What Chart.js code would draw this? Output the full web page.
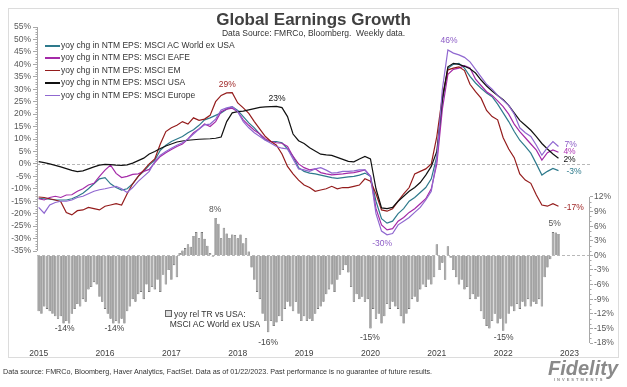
<!DOCTYPE html>
<html lang="en">
<head>
    <meta charset="UTF-8">
    <title>Global Earnings Growth</title>
    <script src="https://cdn.jsdelivr.net/npm/chart.js"></script>
    <style>
        body {
            margin: 0;
            background: #fff;
            font-family: "Liberation Sans", Arial, sans-serif;
        }
        .wrap {
            position: relative;
            width: 627px;
            height: 387px;
            overflow: hidden;
        }
        .frame {
            position: absolute;
            left: 8px;
            top: 8px;
            width: 609px;
            height: 348px;
            border: 1px solid #dcdcdc;
        }
        canvas { position: absolute; left: 0; top: 0; }
        .txt { position: absolute; white-space: nowrap; }
        #title { left: 0; width: 627px; top: 10px; text-align: center; font-weight: bold; font-size: 17px; line-height: 20px; color: #404040; }
        #subtitle { left: 0; width: 627px; top: 28px; text-align: center; font-size: 8.5px; line-height: 10px; color: #333; }
        #legend { left: 45px; top: 39px; font-size: 8.5px; line-height: 12.4px; color: #333; }
        #legend .sw { display: inline-block; width: 15px; height: 1.5px; vertical-align: middle; margin-right: 1px; }
        #barLegend { left: 165px; top: 309px; font-size: 8.5px; line-height: 10px; color: #333; }
        #barLegend .box { display: inline-block; width: 5px; height: 5px; border: 1px solid #666; background: #ddd; margin-right: 2px; vertical-align: 0; }
        #footer { left: 3px; top: 367px; font-size: 7.2px; line-height: 9px; color: #333; }
        #logo { left: 548px; top: 358px; font-size: 20px; font-weight: bold; font-style: italic; color: #8a8a8a; line-height: 20px; }
        #logo small { display: block; font-size: 4px; line-height: 4px; letter-spacing: 2px; font-style: normal; margin-left: 6px; }
    </style>
</head>
<body>
<div class="wrap">
    <div class="frame"></div>
    <canvas id="chart" width="627" height="387"></canvas>
    <div class="txt" id="title">Global Earnings Growth</div>
    <div class="txt" id="subtitle">Data Source: FMRCo, Bloomberg.&nbsp; Weekly data.</div>
    <div class="txt" id="legend"></div>
    <div class="txt" id="barLegend"><span class="box"></span>yoy rel TR vs USA:<br>&nbsp;&nbsp;MSCI AC World ex USA</div>
    <div class="txt" id="footer">Data source: FMRCo, Bloomberg, Haver Analytics, FactSet. Data as of 01/22/2023. Past performance is no guarantee of future results.</div>
    <div class="txt" id="logo">Fidelity<small>INVESTMENTS</small></div>
</div>
<script>
    // x = months since Jan 2015 (lines monthly, bars twice a month)
    const yearLabels = ['2015', '2016', '2017', '2018', '2019', '2020', '2021', '2022', '2023'];

    const acwiExUsa = [
        -13.8, -14, -14.2, -14.5, -14.5, -14.5, -14, -13, -11.8, -10,
        -8, -6, -5.5, -8, -9.5, -10.5, -10, -8, -5, -3,
        -0.5, 1.5, 5.5, 7.5, 9, 10, 11, 12.5, 13.7, 15.5,
        17.7, 18.5, 19.5, 20.5, 22, 23, 21.5, 19, 16.5, 14.5,
        12, 9.5, 9, 9, 8.5, 6, 3, -1.5, -3, -3.7,
        -4, -4.5, -5, -5.5, -5.8, -5.5, -5.2, -5, -4.5, -3.7,
        -5, -15, -22, -23.8, -23, -20, -18, -15, -13.5, -11.5,
        -9.5, -6, 3, 25, 38.4, 40, 40.4, 38.5, 35.2, 32.5,
        30.4, 28.5, 27, 24, 20.5, 17, 13, 9.5, 7, 4.3,
        0, -4.5, -3, -1.8, -2.7
    ];
    const eafe = [
        -14, -14.5, -13.5, -13, -13.5, -12.5, -12.4, -11, -10, -8.5,
        -7.8, -5, -2.5, -0.5, -3.8, -5.5, -5, -4.2, -4, -3,
        -2.2, 0.5, 3, 4.5, 5.8, 7, 8, 10, 12.5, 14,
        16, 15, 17, 21, 22, 22.4, 21, 17.7, 15.5, 13.5,
        12, 10, 9, 8.5, 8.3, 7, 3, 0, -1.5, -2.4,
        -2, -3.5, -4, -4.4, -4.2, -4, -3.7, -3.5, -3, -2.4,
        -5, -18, -24.5, -26.5, -26, -23, -21.5, -19.5, -18, -16,
        -14, -10, 0, 22, 36, 38, 38.5, 39.5, 38.5, 34,
        31.5, 29, 27.5, 25.3, 23, 20, 16, 13, 10.5, 8,
        5.5, 1.5, 4.5, 5.6, 4.7
    ];
    const em = [
        -13.3, -13.5, -14, -14.5, -15.2, -19.5, -20.5, -18.8, -18.5, -17.5,
        -18, -18.5, -17, -16.5, -16, -16.5, -12, -8, -5, -2.5,
        0, 2, 8, 13, 14.5, 15.5, 17, 16, 18.5, 17.5,
        18, 19.5, 25, 27.5, 28.5, 28.6, 24.5, 22.5, 20.3, 17,
        14, 11, 9, 7.5, 4, -1, -4, -6.5, -8.5, -9.5,
        -11, -10.5, -10, -9, -10, -9.5, -9.5, -9, -8.5, -6,
        -7, -12, -18.5, -19, -18, -15, -12, -9.5, -4, -3,
        -2, 0, 11, 27, 37.8, 38.5, 39, 37.5, 32, 29,
        26.4, 21.5, 19, 17.7, 10.5, 6, 2.5, -4, -6.5, -7.8,
        -12.5, -16.5, -17, -16, -17
    ];
    const usa = [
        0.9, 0.5, 0, -0.6, -1.2, -1.9, -2.6, -3.1, -2.8, -2,
        -1.2, -0.5, -0.2, -0.3, -0.5, -0.6, -0.4, 0.3, 1.3, 2.3,
        4, 5, 6.2, 7.2, 8, 8.8, 9.2, 9.5, 9.7, 9.9,
        10, 10.1, 10.3, 10.8, 17, 20.5, 21, 21.2, 21.7, 22.2,
        22.7, 22.9, 23, 23.1, 22.6, 19, 12, 9.3, 8.2, 6.5,
        5.2, 3.9, 3.6, 3.4, 2.6, 1.8, 1, 0.8, 2, 3,
        2, -10, -17.7, -18, -17.5, -15, -13, -11, -9.5, -7.5,
        -4.5, -1, 5, 26, 39, 40.4, 40, 39.2, 38.2, 36.5,
        33.7, 31.3, 29.3, 27.5, 25.8, 23.5, 20.5, 17.5, 15.5, 13.5,
        11, 8.2, 6, 4, 2.3
    ];
    const europe = [
        -17.5, -19.8, -16.5, -15.5, -15, -15, -14.5, -13.5, -13, -12,
        -11, -10.4, -10, -9.5, -9, -10, -11.5, -9.5, -7, -5,
        -3, 1, 3.5, 5, 6.3, 7.5, 8.5, 10, 12, 14,
        15.7, 16, 18, 21.7, 22.5, 23, 21, 17, 14.5, 12.5,
        11, 9.5, 8.3, 7, 6.3, 6, 2, -2, -2.4, -3,
        -2, -1.5, -2.5, -3.7, -3.5, -3, -3, -2.8, -2.4, -2.4,
        -5, -20, -27, -28.5, -28, -24.5, -23, -21.5, -19.5, -17.5,
        -14.5, -11, 2, 30, 45.8, 44.5, 43.8, 42.8, 41, 38,
        35, 32, 30, 27.5, 25.5, 23.5, 20, 14.5, 12.5, 11,
        7.5, 3.5, 6.5, 9, 7
    ];
    // yoy relative total return, ACWI ex USA vs USA (right axis)
    const relTR = [
        -11.5, -12, -10.5, -11, -11.5, -12, -12.5, -13, -12.5, -14,
        -13.5, -14, -12, -11, -10, -10.5, -9, -9.5, -7, -6.5,
        -5.5, -6, -8.5, -9.5, -11, -12, -13, -14, -13.5, -14,
        -13, -14, -11.5, -10.5, -9, -9.5, -8, -7.5, -9, -6,
        -7.5, -6.5, -7, -5, -7.5, -4, -6, -3, -5, -2,
        -4.5, 0.5, 1, 1.5, 2.3, 1.8, 4, 4.8, 3.5, 4.8,
        3.4, 2, 0.5, -0.3, 7.7, 6.5, 3.5, 5.7, 4.5, 3.6,
        4.3, 4.2, 3.5, 4.3, 2.5, 3.5, 0.8, -2.5, -5, -7.5,
        -9, -12, -13.5, -15.8, -13.5, -14.5, -13.8, -12.5, -13.5, -11,
        -9.5, -10.5, -11.5, -9.5, -12, -13.5, -12.5, -13.5, -13, -13.5,
        -12, -11, -10.5, -9.5, -8, -7, -6, -7.5, -5, -4,
        -3, -2, -3.5, -6.5, -9.5, -8, -9, -8.5, -9.5, -9,
        -15, -11, -13, -12, -14, -12.5, -10, -11, -9.5, -10.5,
        -11, -12.5, -14, -12, -11, -9, -8.5, -9.5, -7, -6,
        -6.5, -5, -6, -4.5, 2.3, -3, -1.5, -5, 1.9, -0.5,
        -3, -4.5, -6, -5, -7, -6.5, -9, -8, -9, -8.5,
        -11.5, -13, -14.5, -15, -13.5, -12, -14, -13, -15.5, -14,
        -12, -10.5, -11.5, -10, -11, -9.5, -10.5, -9, -10.5, -9.5,
        -10, -9, -10.5, -4.5, -2.5, -0.8, 4.8, 4.7, 4.4
    ];

    const seriesNames = [
        'yoy chg in NTM EPS: MSCI AC World ex USA',
        'yoy chg in NTM EPS: MSCI EAFE',
        'yoy chg in NTM EPS: MSCI EM',
        'yoy chg in NTM EPS: MSCI USA',
        'yoy chg in NTM EPS: MSCI Europe'
    ];
    const seriesData = [acwiExUsa, eafe, em, usa, europe];
    const seriesColors = ['#2e7a8c', '#a42aa8', '#941c1c', '#111111', '#9068d0'];

    // data labels (x in months, y on the named axis)
    const notes = [
        { text: '29%', x: 34.1, y: 31.7, axis: 'y', color: '#a02828' },
        { text: '23%', x: 43.1, y: 26.1, axis: 'y', color: '#111' },
        { text: '46%', x: 74.2, y: 49.4, axis: 'y', color: '#8c5cc6' },
        { text: '-30%', x: 62.1, y: -32.1, axis: 'y', color: '#8c5cc6' },
        { text: '7%', x: 96.2, y: 7.6, axis: 'y', color: '#8c5cc6' },
        { text: '4%', x: 96.0, y: 4.8, axis: 'y', color: '#b035b5' },
        { text: '2%', x: 96.0, y: 1.6, axis: 'y', color: '#111' },
        { text: '-3%', x: 96.8, y: -3.2, axis: 'y', color: '#2e7a8c' },
        { text: '-17%', x: 96.8, y: -17.7, axis: 'y', color: '#a02828' },
        { text: '8%', x: 31.9, y: 9.45, axis: 'yR', color: '#555' },
        { text: '5%', x: 93.3, y: 6.6, axis: 'yR', color: '#555' },
        { text: '-14%', x: 4.7, y: -15, axis: 'yR', color: '#444' },
        { text: '-14%', x: 13.7, y: -15, axis: 'yR', color: '#444' },
        { text: '-16%', x: 41.5, y: -17.9, axis: 'yR', color: '#444' },
        { text: '-15%', x: 59.9, y: -16.8, axis: 'yR', color: '#444' },
        { text: '-15%', x: 84.1, y: -16.8, axis: 'yR', color: '#444' }
    ];

    // legend
    const legendEl = document.getElementById('legend');
    seriesNames.forEach((name, k) => {
        const row = document.createElement('div');
        row.innerHTML = '<span class="sw" style="background:' + seriesColors[k] + '"></span>' + name;
        legendEl.appendChild(row);
    });

    const tickFont = { family: 'Liberation Sans', size: 8.5 };

    // dashed zero lines, partial axis lines, minor ticks, data labels
    const decor = {
        id: 'decor',
        beforeDatasetsDraw(chart) {
            const { ctx, chartArea: a } = chart;
            const y = chart.scales.y, yR = chart.scales.yR;
            ctx.save();
            ctx.lineWidth = 1;
            ctx.strokeStyle = '#b8b8b8';
            ctx.setLineDash([3, 2]);
            [y.getPixelForValue(0), yR.getPixelForValue(0)].forEach(py => {
                const p = Math.round(py) + 0.5;
                ctx.beginPath(); ctx.moveTo(a.left, p); ctx.lineTo(a.right, p); ctx.stroke();
            });
            ctx.setLineDash([]);
            ctx.strokeStyle = '#a8a8a8';
            const lx = a.left + 0.5, rx = a.right - 0.5;
            ctx.beginPath();
            ctx.moveTo(lx, y.getPixelForValue(55)); ctx.lineTo(lx, y.getPixelForValue(-35));
            ctx.moveTo(rx, yR.getPixelForValue(12)); ctx.lineTo(rx, yR.getPixelForValue(-18));
            for (let v = -35; v <= 55; v++) {
                if (v % 5 === 0) continue;
                const p = Math.round(y.getPixelForValue(v)) + 0.5;
                ctx.moveTo(lx - 2, p); ctx.lineTo(lx, p);
            }
            for (let v = -18; v <= 12; v++) {
                if (v % 3 === 0) continue;
                const p = Math.round(yR.getPixelForValue(v)) + 0.5;
                ctx.moveTo(rx, p); ctx.lineTo(rx + 2, p);
            }
            ctx.stroke();
            ctx.restore();
        },
        afterDatasetsDraw(chart) {
            const { ctx } = chart;
            const x = chart.scales.x;
            ctx.save();
            ctx.font = '8.5px "Liberation Sans"';
            ctx.textAlign = 'center';
            ctx.textBaseline = 'middle';
            notes.forEach(n => {
                ctx.fillStyle = n.color;
                ctx.fillText(n.text, x.getPixelForValue(n.x), chart.scales[n.axis].getPixelForValue(n.y));
            });
            ctx.restore();
        }
    };

    const lineSets = seriesData.map((arr, k) => ({
        type: 'line',
        label: seriesNames[k],
        data: arr.map((v, i) => ({ x: i, y: v })),
        borderColor: seriesColors[k],
        borderWidth: 1.2,
        pointRadius: 0,
        tension: 0,
        yAxisID: 'y',
        order: 5 - k
    }));

    const barSet = {
        type: 'bar',
        label: 'yoy rel TR vs USA: MSCI AC World ex USA',
        data: relTR.map((v, j) => ({ x: j / 2, y: v })),
        backgroundColor: '#a3a3a3',
        borderColor: '#575757',
        borderWidth: 0.6,
        barPercentage: 0.88,
        categoryPercentage: 1,
        yAxisID: 'yR',
        order: 10
    };

    new Chart(document.getElementById('chart'), {
        type: 'line',
        data: { datasets: [barSet, ...lineSets] },
        options: {
            responsive: false,
            animation: false,
            events: [],
            layout: { padding: { top: 27, left: 0, right: 0, bottom: 0 } },
            plugins: { legend: { display: false }, tooltip: { enabled: false } },
            scales: {
                x: {
                    type: 'linear',
                    offset: false,
                    min: -0.3,
                    max: 99.7,
                    grid: { display: false, offset: false },
                    border: { display: false },
                    afterBuildTicks: s => { s.ticks = yearLabels.map((_, k) => ({ value: k * 12 })); },
                    afterFit: s => { s.height = 44; },
                    ticks: {
                        callback: v => yearLabels[Math.round(v / 12)],
                        font: tickFont, color: '#404040', padding: -2,
                        maxRotation: 0, autoSkip: false
                    }
                },
                y: {
                    position: 'left',
                    min: -71.96,
                    max: 55,
                    afterFit: s => { s.width = 37; },
                    border: { display: false },
                    grid: { drawOnChartArea: false, drawTicks: true, tickLength: 4, color: '#a8a8a8' },
                    ticks: {
                        stepSize: 5,
                        callback: v => (v >= -35 && v % 5 === 0) ? v + '%' : null,
                        font: tickFont, color: '#595959', padding: 2
                    }
                },
                yR: {
                    position: 'right',
                    min: -18,
                    max: 46.93,
                    afterFit: s => { s.width = 37; },
                    border: { display: false },
                    grid: { drawOnChartArea: false, drawTicks: true, tickLength: 3, color: '#a8a8a8' },
                    ticks: {
                        stepSize: 3,
                        callback: v => (v <= 12 && v % 3 === 0) ? v + '%' : null,
                        font: tickFont, color: '#595959', padding: 1
                    }
                }
            }
        },
        plugins: [decor]
    });
</script>
</body>
</html>
